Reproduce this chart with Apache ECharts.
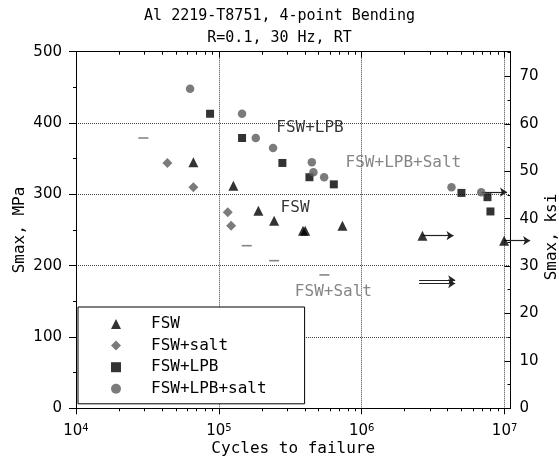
<!DOCTYPE html>
<html>
<head>
<meta charset="utf-8">
<title>Al 2219-T8751 fatigue</title>
<script src="https://cdn.jsdelivr.net/npm/echarts@6/dist/echarts.min.js"></script>
<style>
  html, body { margin: 0; padding: 0; background: #fff; }
  #main { width: 559px; height: 463px; }
</style>
</head>
<body>
<div id="main"></div>
<script>
// cycles to failure and max stress (MPa)
var fswCycles = [66300, 126400, 189100, 243600, 388000, 402000, 732500, 2660000, 9930000];
var fswStress = [345, 312, 277, 263, 249, 249, 256, 242, 235];
var fswSaltCycles = [43600, 66300, 115400, 121800];
var fswSaltStress = [344, 310, 275, 256];
var lpbCycles = [86800, 145300, 278400, 430500, 637800, 4990000, 7590000, 7960000];
var lpbStress = [413, 379, 344, 324, 314, 302, 296, 276];
var lpbSaltCycles = [62900, 145300, 181300, 239600, 447500, 459000, 545700, 4250000, 6860000];
var lpbSaltStress = [448, 413, 379, 365, 345, 331, 324, 310, 303];
// short grey dashes without legend entry
var dashCycles = [29600, 156800, 243600, 548000];
var dashStress = [379, 228, 207, 187];
// run-out arrows: start and end (cycles, MPa)
var runoutFrom = [[2660000, 242], [6860000, 303], [9930000, 235], [2520000, 180], [2520000, 175]];
var runoutTo = [[4390000, 242], [10400000, 303], [15100000, 235], [4510000, 180], [4510000, 175]];
// text notes inside the plot
var noteText = ['FSW+LPB', 'FSW+LPB+Salt', 'FSW', 'FSW+Salt'];
var noteCycles = [250200, 765000, 268400, 337700];
var noteStress = [392.6, 343.5, 280.4, 162.6];
// axis ticks
var xDecades = [1e4, 1e5, 1e6, 1e7];
var mpaTicks = [0, 100, 200, 300, 400, 500];
var ksiTicks = [0, 10, 20, 30, 40, 50, 60, 70];

var MONO = 'DejaVu Sans Mono';
var SANS = 'DejaVu Sans';
var GRAY = '#5a5a5a';
var xMin = 1e4, xMax = 1.1e7;
var ksiMax = 75.2;

var xMinor = [];
for (var d = 1e4; d < 1e7; d *= 10) {
  for (var k = 2; k <= 9; k++) xMinor.push(d * k);
}

function pairs(xs, ys) {
  return xs.map(function (x, i) { return [x, ys[i]]; });
}

function xAxisDef(pos, major) {
  var bottomMajor = pos === 'bottom' && major;
  return {
    type: 'log', logBase: 10, min: xMin, max: xMax, position: pos,
    name: bottomMajor ? 'Cycles to failure' : '',
    nameLocation: 'middle', nameGap: 33, nameMoveOverlap: false,
    nameTextStyle: { fontFamily: MONO, fontSize: 16, color: '#000' },
    axisLine: { show: major, onZero: false, lineStyle: { color: '#000', width: 1 } },
    axisTick: { show: true, inside: pos === 'top', length: major ? 6 : 3,
      customValues: major ? xDecades : xMinor, lineStyle: { color: '#000' } },
    minorTick: { show: false },
    axisLabel: {
      show: bottomMajor, margin: 15, customValues: xDecades,
      formatter: function (v) { return '{b|10}{s|' + Math.round(Math.log10(v)) + '}'; },
      rich: {
        b: { fontFamily: SANS, fontSize: 15, color: '#000' },
        s: { fontFamily: SANS, fontSize: 10, color: '#000', verticalAlign: 'top' }
      }
    },
    splitLine: { show: bottomMajor, lineStyle: { type: 'dotted', color: '#444', width: 1 } }
  };
}

var chart = echarts.init(document.getElementById('main'));

var option = {
  animation: false,
  backgroundColor: '#fff',
  title: {
    text: 'Al 2219-T8751, 4-point Bending\nR=0.1, 30 Hz, RT',
    left: 'center', top: 0, padding: [5, 0, 0, 0],
    textStyle: { fontFamily: MONO, fontSize: 15, fontWeight: 'normal', color: '#000', lineHeight: 22 }
  },
  grid: { left: 76, right: 48.5, top: 51.7, bottom: 54.7, outerBoundsMode: 'none' },
  legend: {
    data: [
      { name: 'FSW', icon: 'triangle' },
      { name: 'FSW+salt', icon: 'diamond' },
      { name: 'FSW+LPB', icon: 'rect' },
      { name: 'FSW+LPB+salt', icon: 'circle' }
    ],
    orient: 'vertical', left: 78, top: 307,
    padding: [9, 38, 7, 33],
    itemWidth: 10, itemHeight: 10, itemGap: 5.6,
    borderColor: '#000', borderWidth: 1, backgroundColor: '#fff',
    textStyle: { fontFamily: MONO, fontSize: 16, color: '#000', padding: [0, 0, 0, 25] },
    selectedMode: false
  },
  xAxis: [
    xAxisDef('bottom', true),
    xAxisDef('bottom', false),
    xAxisDef('top', true),
    xAxisDef('top', false)
  ],
  yAxis: [
    {
      type: 'value', position: 'left', min: 0, max: 500, interval: 100,
      name: 'Smax, MPa', nameLocation: 'middle', nameGap: 48, nameRotate: 90,
      nameMoveOverlap: false,
      nameTextStyle: { fontFamily: MONO, fontSize: 16, color: '#000' },
      axisLine: { show: true, onZero: false, lineStyle: { color: '#000' } },
      axisTick: { show: true, inside: false, length: 7, lineStyle: { color: '#000' } },
      minorTick: { show: true, splitNumber: 2, length: 3, lineStyle: { color: '#000' } },
      axisLabel: { fontFamily: SANS, fontSize: 15, color: '#000', margin: 14,
        formatter: function (v) { return mpaTicks.indexOf(v) >= 0 ? String(v) : ''; } },
      splitLine: { show: true, lineStyle: { type: 'dotted', color: '#444', width: 1 } }
    },
    {
      type: 'value', position: 'right', min: 0, max: ksiMax, interval: 10,
      name: 'Smax, ksi', nameLocation: 'middle', nameGap: 33, nameRotate: 90,
      nameMoveOverlap: false,
      nameTextStyle: { fontFamily: MONO, fontSize: 16, color: '#000', padding: [0, 14, 0, 0] },
      axisLine: { show: true, onZero: false, lineStyle: { color: '#000' } },
      axisTick: { show: true, inside: true, length: 6, lineStyle: { color: '#000' } },
      minorTick: { show: true, splitNumber: 2, length: 3, lineStyle: { color: '#000' } },
      axisLabel: { fontFamily: SANS, fontSize: 15, color: '#000', margin: 9,
        formatter: function (v) { return ksiTicks.indexOf(v) >= 0 ? String(v) : ''; } },
      splitLine: { show: false }
    }
  ],
  series: [
    {
      type: 'lines', coordinateSystem: 'cartesian2d', xAxisIndex: 0, yAxisIndex: 0,
      clip: false, silent: true, z: 1,
      symbol: ['none', 'arrow'], symbolSize: 7,
      lineStyle: { color: '#222', width: 1.2, opacity: 1, curveness: 0 },
      data: runoutFrom.map(function (p, i) { return { coords: [p, runoutTo[i]] }; })
    },
    {
      name: 'dashes', type: 'scatter', silent: true, z: 3,
      symbol: 'rect', symbolSize: [10, 1.6],
      itemStyle: { color: '#666' },
      data: pairs(dashCycles, dashStress)
    },
    {
      name: 'FSW', type: 'scatter', silent: true, z: 3,
      symbol: 'triangle', symbolSize: 10,
      itemStyle: { color: '#000' },
      data: pairs(fswCycles, fswStress)
    },
    {
      name: 'FSW+salt', type: 'scatter', silent: true, z: 3,
      symbol: 'diamond', symbolSize: 10,
      itemStyle: { color: GRAY },
      data: pairs(fswSaltCycles, fswSaltStress)
    },
    {
      name: 'FSW+LPB', type: 'scatter', silent: true, z: 3,
      symbol: 'rect', symbolSize: 8,
      itemStyle: { color: '#000' },
      data: pairs(lpbCycles, lpbStress)
    },
    {
      name: 'FSW+LPB+salt', type: 'scatter', silent: true, z: 3,
      symbol: 'circle', symbolSize: 8.5,
      itemStyle: { color: GRAY },
      data: pairs(lpbSaltCycles, lpbSaltStress)
    },
    {
      name: 'notes', type: 'scatter', silent: true, z: 3,
      symbol: 'circle', symbolSize: 1,
      itemStyle: { color: 'transparent' },
      label: { show: true, position: 'right', distance: 0, formatter: '{b}',
        fontFamily: MONO, fontSize: 16 },
      data: noteText.map(function (t, i) {
        return { name: t, value: [noteCycles[i], noteStress[i]],
          label: { color: t.indexOf('Salt') >= 0 ? '#666' : '#000' } };
      })
    }
  ]
};

chart.setOption(option);
</script>
</body>
</html>
